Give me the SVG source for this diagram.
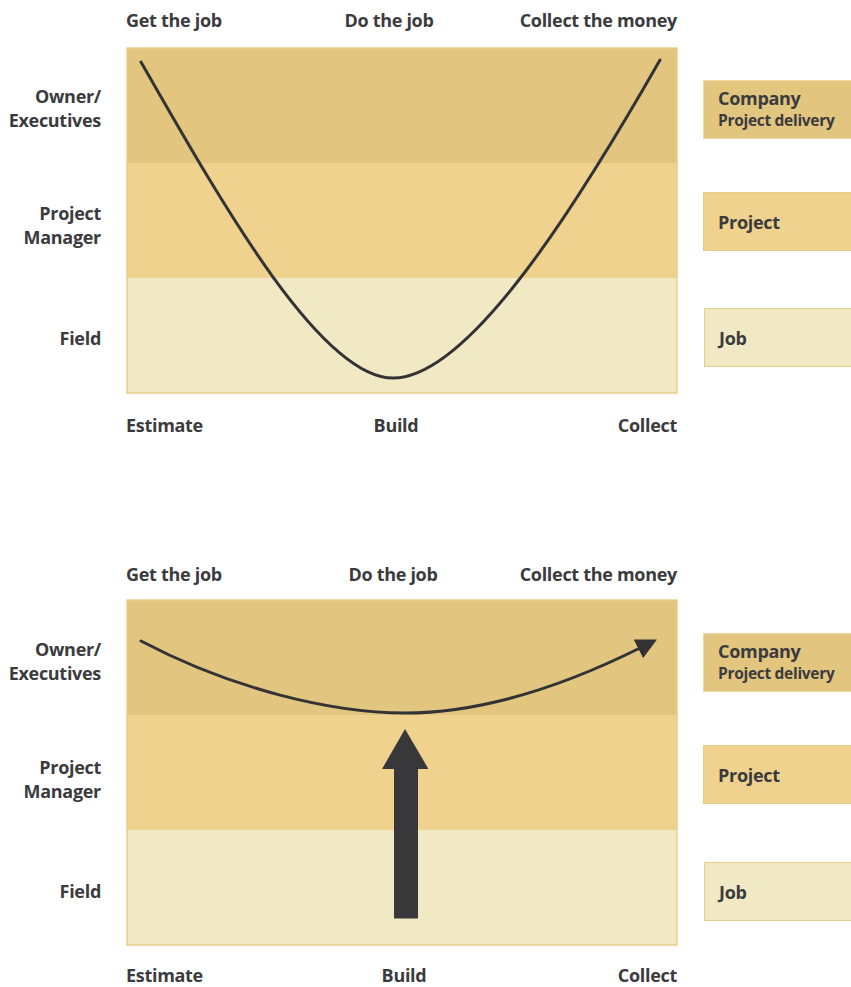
<svg xmlns="http://www.w3.org/2000/svg" width="851" height="987" viewBox="0 0 851 987">
<style>
text{font-family:"Open Sans","Liberation Sans",sans-serif;font-weight:700;fill:#3b3b3e;font-size:18px;letter-spacing:-0.3px}
.r{text-anchor:end}
.m{text-anchor:middle}
.b1{fill:#e2c57e}
.b2{fill:#efd28d}
.b3{fill:#f0e9c4}
.frame{fill:none;stroke:#e6cf8c;stroke-width:1.5}
.box1{fill:#e2c57e;stroke:#eedaa0;stroke-width:1}
.box2{fill:#efd28d;stroke:#e8cd86;stroke-width:1}
.box3{fill:#f0e9c4;stroke:#e6cf8c;stroke-width:1}
.curve{fill:none;stroke:#333336;stroke-width:3;stroke-linecap:round}
.small{font-size:15.5px}
</style>
<defs>
<marker id="ah" viewBox="0 0 10 10" refX="2" refY="5" markerWidth="7" markerHeight="7" markerUnits="strokeWidth" orient="auto">
<path d="M0,0 L10,5 L0,10 Z" fill="#333336"/>
</marker>
</defs>

<g id="panel1">
<g id="p1-bands">
<rect class="b1" x="127" y="48" width="550" height="115"/>
<rect class="b2" x="127" y="163" width="550" height="115"/>
<rect class="b3" x="127" y="278" width="550" height="115"/>
<rect class="frame" x="127" y="48" width="550" height="345"/>
</g>
<g id="p1-toplabels">
<text x="126" y="27">Get the job</text>
<text class="m" x="389" y="27">Do the job</text>
<text class="r" x="677" y="27">Collect the money</text>
</g>
<g id="p1-rows">
<text class="r" x="101" y="103">Owner/</text>
<text class="r" x="101" y="127">Executives</text>
<text class="r" x="101" y="220">Project</text>
<text class="r" x="101" y="244">Manager</text>
<text class="r" x="101" y="345">Field</text>
</g>
<g id="p1-bottomlabels">
<text x="126" y="432">Estimate</text>
<text class="m" x="396" y="432">Build</text>
<text class="r" x="677" y="432">Collect</text>
</g>
<g id="p1-company"><rect class="box1" x="703.5" y="80.5" width="148" height="58"/><text x="718" y="105">Company</text><text class="small" x="718" y="126">Project delivery</text></g>
<g id="p1-project"><rect class="box2" x="703.5" y="192.5" width="148" height="58"/><text x="718" y="229">Project</text></g>
<g id="p1-job"><rect class="box3" x="704.5" y="308.5" width="147" height="58"/><text x="719" y="345">Job</text></g>
</g>

<g id="panel2">
<g id="p2-bands">
<rect class="b1" x="127" y="600" width="550" height="115"/>
<rect class="b2" x="127" y="715" width="550" height="115"/>
<rect class="b3" x="127" y="830" width="550" height="115"/>
<rect class="frame" x="127" y="600" width="550" height="345"/>
</g>
<g id="p2-toplabels">
<text x="126" y="581">Get the job</text>
<text class="m" x="393" y="581">Do the job</text>
<text class="r" x="677" y="581">Collect the money</text>
</g>
<g id="p2-rows">
<text class="r" x="101" y="656">Owner/</text>
<text class="r" x="101" y="680">Executives</text>
<text class="r" x="101" y="774">Project</text>
<text class="r" x="101" y="798">Manager</text>
<text class="r" x="101" y="898">Field</text>
</g>
<g id="p2-bottomlabels">
<text x="126" y="982">Estimate</text>
<text class="m" x="404" y="982">Build</text>
<text class="r" x="677" y="982">Collect</text>
</g>
<g id="p2-company"><rect class="box1" x="703.5" y="633.5" width="148" height="58"/><text x="718" y="658">Company</text><text class="small" x="718" y="679">Project delivery</text></g>
<g id="p2-project"><rect class="box2" x="703.5" y="745.5" width="148" height="58"/><text x="718" y="782">Project</text></g>
<g id="p2-job"><rect class="box3" x="704.5" y="862.5" width="147" height="58"/><text x="719" y="899">Job</text></g>
</g>

<g id="connectors">
<path class="curve" d="M141,62 C220,200 320,378 393,378 C470,378 580,200 660,60"/>
<path class="curve" d="M141,641 C230,688 330,713 405,713 C480,713 560,688 642,647" marker-end="url(#ah)"/>
<polygon id="big-arrow" points="405,729 428.5,769 418,769 418,918.5 394,918.5 394,769 382,769" fill="#38383b"/>
</g>
</svg>
